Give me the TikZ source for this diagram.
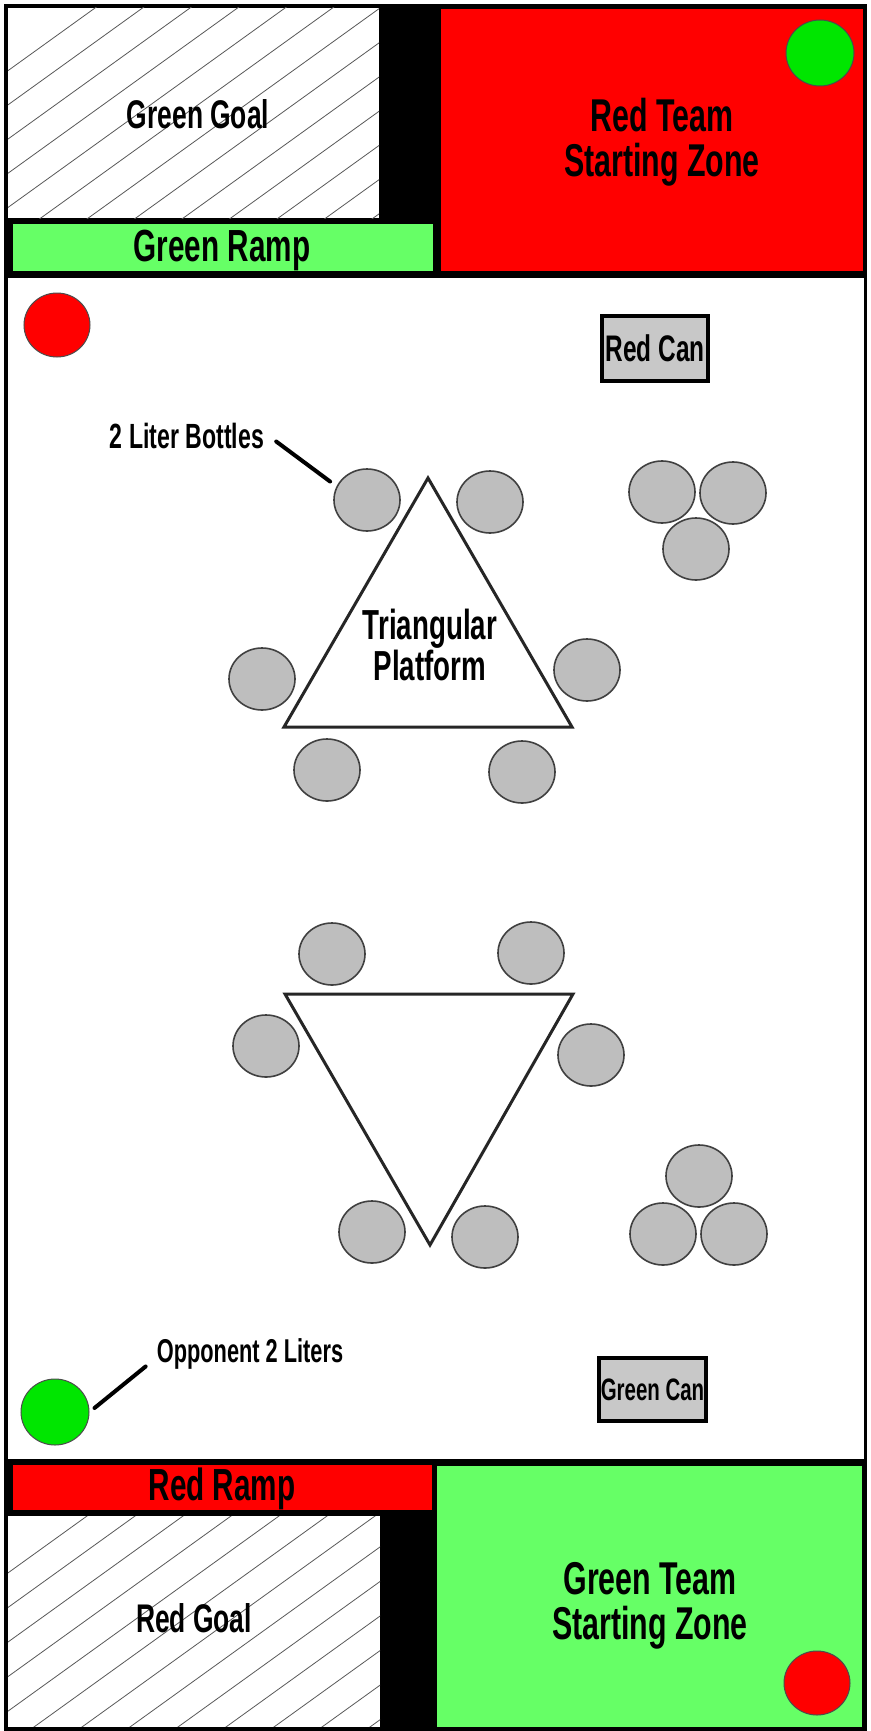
\documentclass[tikz,border=0pt]{standalone}
\usepackage{fontspec}
\newfontfamily\agency{Liberation Sans}[FakeStretch=0.66]
\usetikzlibrary{shapes.geometric}
\definecolor{zonered}{HTML}{FF0000}
\definecolor{zonegreen}{HTML}{66FF66}
\definecolor{ballgreen}{HTML}{00E600}
\definecolor{bottlegray}{HTML}{BEBEBE}
\definecolor{cangray}{HTML}{C8C8C8}
\begin{document}
\begin{tikzpicture}[x=1pt,y=-1pt,
  lbl/.style={text=black, inner sep=0pt, anchor=base},
  bigfont/.style={font=\agency\bfseries\fontsize{46pt}{45pt}\selectfont},
  rampfont/.style={font=\agency\bfseries\fontsize{45pt}{45pt}\selectfont},
  goalfont/.style={font=\agency\bfseries\fontsize{40pt}{40pt}\selectfont},
  platfont/.style={font=\agency\bfseries\fontsize{42pt}{37pt}\selectfont},
  notefont/.style={font=\agency\bfseries\fontsize{35pt}{36pt}\selectfont},
  bottle/.style={ellipse, draw=black!75, line width=1.6pt, fill=bottlegray,
    minimum width=66pt, minimum height=62pt, inner sep=0pt},
  ball/.style={ellipse, draw=black!70, line width=1pt,
    minimum width=66pt, minimum height=64pt, inner sep=0pt},
  can/.style={rectangle, draw=black, line width=4pt, fill=cangray, inner sep=0pt},
  leader/.style={line width=4pt, line cap=round},
  platform/.style={draw=black!85, line width=3pt, line join=miter},
  hatchline/.style={draw=black!65, line width=0.8pt},
]
\useasboundingbox (0,0) rectangle (870,1731);
\fill[white] (0,0) rectangle (870,1731);

% ---------- top band ----------
\fill[black] (4,4) rectangle (867,278);
\fill[white] (8,8) rectangle (379,218);
\begin{scope}
  \clip (8,8) rectangle (379,218);
  \foreach \k in {0,...,13}
    \draw[hatchline] ({95+47.5*\k-400},{8+0.72*400}) -- ({95+47.5*\k+40},{8-0.72*40});
\end{scope}
\node[lbl, goalfont] (greengoal) at (198,129) {Green Goal};
\fill[zonegreen] (13,224) rectangle (433,271);
\node[lbl, rampfont] (greenramp) at (222,261) {Green Ramp};
\fill[zonered] (441,9) rectangle (863,271);
\node[bigfont, align=center, inner sep=0pt] (redzone) at (662,142) {Red Team\\Starting Zone};
\node[ball, fill=ballgreen, minimum width=68pt, minimum height=66pt] (gball1) at (820,53) {};

% ---------- bottom band ----------
\fill[black] (4,1459) rectangle (867,1731);
\fill[zonered] (13,1465) rectangle (432,1510);
\node[lbl, rampfont] (redramp) at (222,1500) {Red Ramp};
\fill[white] (8,1516) rectangle (380,1727);
\begin{scope}
  \clip (8,1516) rectangle (380,1727);
  \foreach \k in {0,...,13}
    \draw[hatchline] ({87+48*\k-400},{1516+0.72*400}) -- ({87+48*\k+40},{1516-0.72*40});
\end{scope}
\node[lbl, goalfont] (redgoal) at (194,1632) {Red Goal};
\fill[zonegreen] (437,1466) rectangle (862,1727);
\node[bigfont, align=center, inner sep=0pt] (greenzone) at (650,1606) {Green Team\\Starting Zone};
\node[ball, fill=zonered] (rball2) at (817,1683) {};

% ---------- outer frame ----------
\draw[line width=3.5pt] (6,5.5) rectangle (865.5,1729);

% ---------- field ----------
\node[ball, fill=zonered] (rball1) at (57,325) {};
\node[ball, fill=ballgreen, minimum width=68pt, minimum height=66pt] (gball2) at (55,1412) {};

\node[can, minimum width=106pt, minimum height=65pt, font=\agency\bfseries\fontsize{37pt}{38pt}\selectfont] (redcan) at (655,348.5) {Red Can};
\node[can, minimum width=107pt, minimum height=63pt, font=\agency\bfseries\fontsize{31pt}{32pt}\selectfont] (greencan) at (652.5,1389.5) {Green Can};

% upper platform
\draw[platform] (428,478) -- (572,727) -- (284,727) -- cycle;
\node[platfont, align=center, inner sep=0pt] (plat) at (430,645) {Triangular\\Platform};
\node[bottle] (u1) at (367,500) {};
\node[bottle] (u2) at (490,502) {};
\node[bottle] (u3) at (262,679) {};
\node[bottle] (u4) at (587,670) {};
\node[bottle] (u5) at (327,770) {};
\node[bottle] (u6) at (522,772) {};
% upper cluster
\node[bottle] (c1) at (662,492) {};
\node[bottle] (c2) at (733,493) {};
\node[bottle] (c3) at (696,549) {};

% lower platform
\draw[platform] (285,994) -- (573,994) -- (430,1245) -- cycle;
\node[bottle] (d1) at (332,954) {};
\node[bottle] (d2) at (531,953) {};
\node[bottle] (d3) at (266,1046) {};
\node[bottle] (d4) at (591,1055) {};
\node[bottle] (d5) at (372,1232) {};
\node[bottle] (d6) at (485,1237) {};
% lower cluster
\node[bottle] (e1) at (699,1176) {};
\node[bottle] (e2) at (663,1234) {};
\node[bottle] (e3) at (734,1234) {};

% labels with leaders
\node[lbl, notefont] (bottlelbl) at (187,448) {2 Liter Bottles};
\draw[leader] ([xshift=12pt,yshift=-6pt]bottlelbl.east) -- ([xshift=-13pt,yshift=-4pt]u1.north west);
\node[lbl, font=\agency\bfseries\fontsize{33pt}{35pt}\selectfont] (opplbl) at (250,1362) {Opponent 2 Liters};
\draw[leader] ([xshift=-11pt,yshift=-13pt]opplbl.west) -- ([xshift=5pt,yshift=4pt]gball2.east);
\end{tikzpicture}
\end{document}
